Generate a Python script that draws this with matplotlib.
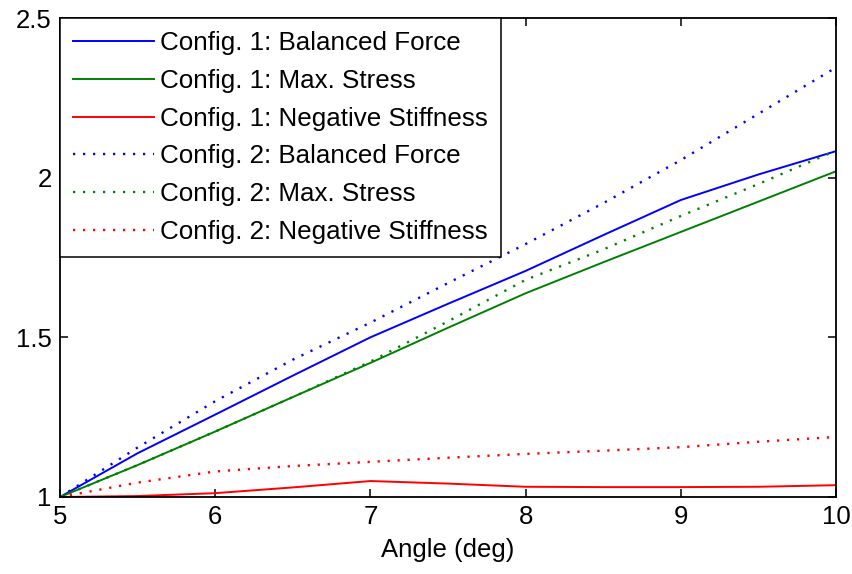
import matplotlib
matplotlib.use("Agg")
import matplotlib.pyplot as plt

plt.rcParams['font.family'] = ['Liberation Sans', 'DejaVu Sans']
plt.rcParams['lines.scale_dashes'] = False

# Angle samples (deg)
angle = [5.0, 5.5, 6.0, 6.5, 7.0, 7.5, 8.0, 8.5, 9.0, 9.5, 10.0]

# Configuration 1
c1_balanced = [1.000, 1.137, 1.258, 1.380, 1.500, 1.605, 1.708, 1.820, 1.930, 2.010, 2.083]
c1_maxstress = [1.000, 1.100, 1.205, 1.313, 1.420, 1.530, 1.638, 1.735, 1.830, 1.925, 2.020]
c1_negstiff = [1.000, 1.003, 1.012, 1.030, 1.050, 1.042, 1.032, 1.031, 1.031, 1.032, 1.037]

# Configuration 2
c2_balanced = [1.000, 1.155, 1.300, 1.430, 1.546, 1.670, 1.792, 1.920, 2.055, 2.200, 2.345]
c2_maxstress = [1.000, 1.100, 1.205, 1.313, 1.424, 1.550, 1.680, 1.775, 1.880, 1.980, 2.085]
c2_negstiff = [1.000, 1.045, 1.080, 1.097, 1.110, 1.123, 1.135, 1.145, 1.156, 1.173, 1.188]

labels = [
    "Config. 1: Balanced Force",
    "Config. 1: Max. Stress",
    "Config. 1: Negative Stiffness",
    "Config. 2: Balanced Force",
    "Config. 2: Max. Stress",
    "Config. 2: Negative Stiffness",
]

x_ticks = [5, 6, 7, 8, 9, 10]
y_ticks = [1, 1.5, 2, 2.5]
y_tick_labels = ["1", "1.5", "2", "2.5"]

blue = (0, 0, 1)
green = (0, 0.5, 0)
red = (1, 0, 0)

fig = plt.figure(figsize=(8.52, 5.74), dpi=100)
ax = fig.add_axes([60 / 852, 77 / 574, 776 / 852, 479 / 574])

solid_lw = 1.4
dot_style = (0, (1.6, 5.6))
dot_lw = 1.7

ax.plot(angle, c1_balanced, color=blue, lw=solid_lw, label=labels[0])
ax.plot(angle, c1_maxstress, color=green, lw=solid_lw, label=labels[1])
ax.plot(angle, c1_negstiff, color=red, lw=solid_lw, label=labels[2])
ax.plot(angle, c2_balanced, color=blue, lw=dot_lw, linestyle=dot_style, label=labels[3])
ax.plot(angle, c2_maxstress, color=green, lw=dot_lw, linestyle=dot_style, label=labels[4])
ax.plot(angle, c2_negstiff, color=red, lw=dot_lw, linestyle=dot_style, label=labels[5])

ax.set_xlim(5, 10)
ax.set_ylim(1, 2.5)
ax.set_xticks(x_ticks)
ax.set_xticklabels([str(t) for t in x_ticks])
ax.set_yticks(y_ticks)
ax.set_yticklabels(y_tick_labels)

ax.tick_params(direction='in', length=6, width=1.1, top=True, right=True,
               labelsize=18.5, colors='black', pad=6)
for s in ax.spines.values():
    s.set_linewidth(1.3)
    s.set_color('black')

ax.set_xlabel("Angle (deg)", fontsize=18.5, labelpad=6)

leg = ax.legend(loc='upper left', bbox_to_anchor=(0, 1), borderaxespad=0,
                fontsize=18.75, frameon=True, fancybox=False, framealpha=1,
                edgecolor='black', handlelength=3.1, handletextpad=0.25,
                labelspacing=0.53, borderpad=0.5)
leg.get_frame().set_linewidth(1.1)

fig.savefig("out.png", dpi=100)
